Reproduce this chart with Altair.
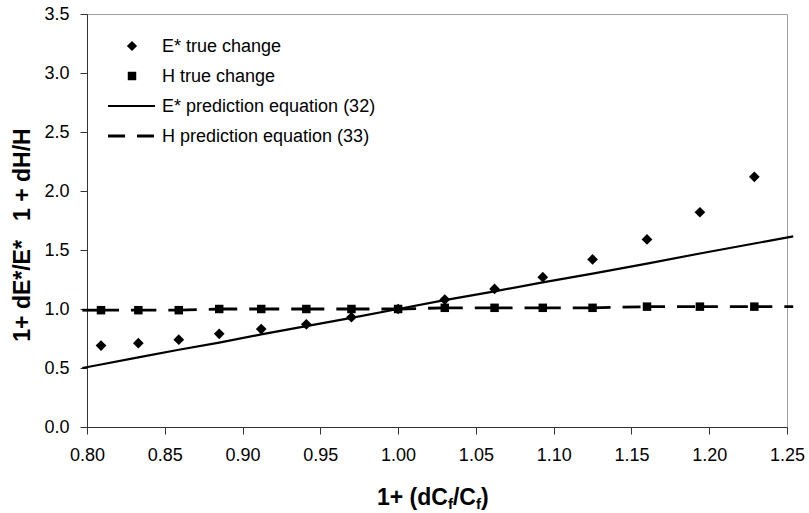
import altair as alt
import pandas as pd

# Relative change of C_f (x) and the resulting ratios for E* and H
x_true = [0.809, 0.833, 0.859, 0.885, 0.912, 0.941, 0.970, 1.000,
          1.030, 1.062, 1.093, 1.125, 1.160, 1.194, 1.229]
e_true = [0.69, 0.71, 0.74, 0.79, 0.83, 0.87, 0.93, 1.00,
          1.08, 1.17, 1.27, 1.42, 1.59, 1.82, 2.12]
h_true = [0.99, 0.99, 0.99, 1.00, 1.00, 1.00, 1.00, 1.00,
          1.01, 1.01, 1.01, 1.01, 1.02, 1.02, 1.02]

# Prediction equations (32) and (33)
x_pred = [0.797, 0.809, 0.833, 0.859, 0.885, 0.912, 0.941, 0.970, 1.000,
          1.030, 1.062, 1.093, 1.125, 1.160, 1.194, 1.229, 1.254]
e_pred = [0.50, 0.53, 0.59, 0.655, 0.715, 0.785, 0.855, 0.925, 1.00,
          1.075, 1.15, 1.225, 1.30, 1.385, 1.47, 1.555, 1.615]
h_pred = [0.99, 0.99, 0.99, 0.99, 1.00, 1.00, 1.00, 1.00, 1.00,
          1.01, 1.01, 1.01, 1.01, 1.02, 1.02, 1.02, 1.02]

x_ticks = [0.80, 0.85, 0.90, 0.95, 1.00, 1.05, 1.10, 1.15, 1.20, 1.25]
y_ticks = [0.0, 0.5, 1.0, 1.5, 2.0, 2.5, 3.0, 3.5]

legend_labels = ["E* true change", "H true change",
                 "E* prediction equation (32)", "H prediction equation (33)"]

FONT = "Liberation Sans"
W, H = 700, 413

true_df = pd.DataFrame({"x": x_true, "e": e_true, "h": h_true})
pred_df = pd.DataFrame({"x": x_pred, "e": e_pred})

# dashed line drawn segment by segment so the dash pattern restarts at each point
seg_rows = []
for i in range(len(x_pred) - 1):
    seg_rows.append({"seg": i, "x": x_pred[i], "y": h_pred[i]})
    seg_rows.append({"seg": i, "x": x_pred[i + 1], "y": h_pred[i + 1]})
seg_df = pd.DataFrame(seg_rows)

xs = alt.Scale(domain=[0.80, 1.25], nice=False, zero=False)
ys = alt.Scale(domain=[0.0, 3.5], nice=False, zero=True)

x_axis = alt.Axis(values=x_ticks, format=".2f", title=None, grid=False,
                  labelFontSize=18, labelFont=FONT, labelColor="#000",
                  tickSize=7, tickColor="#333", domainColor="#333",
                  labelPadding=12, labelFlush=False)
y_axis = alt.Axis(values=y_ticks, format=".1f", title=None, grid=False,
                  labelFontSize=18, labelFont=FONT, labelColor="#000",
                  tickSize=7, tickColor="#333", domainColor="#333",
                  labelPadding=11)

e_line = alt.Chart(pred_df).mark_line(color="black", strokeWidth=2.2).encode(
    x=alt.X("x:Q", scale=xs, axis=x_axis),
    y=alt.Y("e:Q", scale=ys, axis=y_axis),
    order="x:Q",
)

h_line = alt.Chart(seg_df).mark_line(
    color="black", strokeWidth=2.8, strokeDash=[18, 12]
).encode(
    x=alt.X("x:Q", scale=xs),
    y=alt.Y("y:Q", scale=ys),
    detail="seg:N",
    order="x:Q",
)

e_pts = alt.Chart(true_df).mark_point(
    shape="diamond", filled=True, color="black", size=115, opacity=1
).encode(x=alt.X("x:Q", scale=xs), y=alt.Y("e:Q", scale=ys))

h_pts = alt.Chart(true_df).mark_point(
    shape="square", filled=True, color="black", size=72, opacity=1
).encode(x=alt.X("x:Q", scale=xs), y=alt.Y("h:Q", scale=ys))

# legend in the upper-left corner of the plot
leg_df = pd.DataFrame({"label": legend_labels})
row_y = [32, 62, 92, 122]
sym_x, line_x0, line_x1, text_x = 45, 21, 68, 75

legend_layers = [
    alt.Chart(leg_df.iloc[[0]]).mark_point(
        shape="diamond", filled=True, color="black", size=105, opacity=1
    ).encode(x=alt.value(sym_x), y=alt.value(row_y[0])),
    alt.Chart(leg_df.iloc[[1]]).mark_point(
        shape="square", filled=True, color="black", size=72, opacity=1
    ).encode(x=alt.value(sym_x), y=alt.value(row_y[1])),
    alt.Chart(leg_df.iloc[[2]]).mark_rule(color="black", strokeWidth=2.2).encode(
        x=alt.value(line_x0), x2=alt.value(line_x1), y=alt.value(row_y[2])),
    alt.Chart(leg_df.iloc[[3]]).mark_rule(
        color="black", strokeWidth=2.8, strokeDash=[17, 12]
    ).encode(x=alt.value(line_x0), x2=alt.value(line_x1), y=alt.value(row_y[3])),
]
for i, lab in enumerate(legend_labels):
    legend_layers.append(
        alt.Chart(leg_df.iloc[[i]]).mark_text(
            align="left", baseline="alphabetic", font=FONT, fontSize=18,
            color="black"
        ).encode(x=alt.value(text_x), y=alt.value(row_y[i] + 6), text="label:N")
    )

# axis titles (the x title carries subscripts, so it is set piece by piece)
BOLD_W = {"1": 0.556, "+": 0.584, " ": 0.278, "(": 0.333, ")": 0.333,
          "d": 0.611, "C": 0.722, "f": 0.333, "/": 0.278}
TS, SS = 23, 15
pieces = [("1+ (dC", TS, 0), ("f", SS, 4), ("/C", TS, 0), ("f", SS, 4), (")", TS, 0)]
title_x0, title_base = 290, 491
title_layers = []
cx = title_x0
for txt, fs, dy in pieces:
    title_layers.append(
        alt.Chart(pd.DataFrame({"t": [txt]})).mark_text(
            align="left", baseline="alphabetic", font=FONT, fontSize=fs,
            fontWeight="bold", color="black"
        ).encode(x=alt.value(cx), y=alt.value(title_base + dy), text="t:N")
    )
    cx += sum(BOLD_W[c] for c in txt) * fs

y_title = alt.Chart(pd.DataFrame({"t": ["1+ dE*/E*\u00a0\u00a0 1 + dH/H"]})).mark_text(
    angle=270, align="center", baseline="middle", font=FONT, fontSize=23,
    fontWeight="bold", color="black"
).encode(x=alt.value(-64), y=alt.value(221), text="t:N")

chart = alt.layer(
    e_line, h_line, e_pts, h_pts, *legend_layers, *title_layers, y_title
).properties(
    width=W, height=H,
    autosize=alt.AutoSizeParams(type="none"),
    padding={"left": 87, "top": 14, "right": 22, "bottom": 86},
    background="white",
).configure_view(stroke="#a0a0a0", strokeWidth=1)

chart.save("out.html", embed_options={"renderer": "svg", "actions": False})
